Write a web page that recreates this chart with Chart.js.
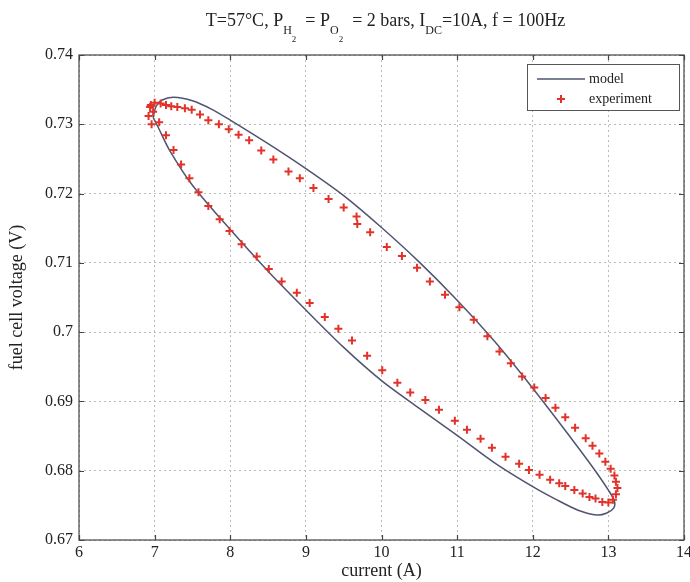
<!DOCTYPE html>
<html>
<head>
<meta charset="utf-8">
<script src="https://cdn.jsdelivr.net/npm/chart.js@4/dist/chart.umd.min.js"></script>
<style>
    html, body { margin: 0; padding: 0; background: #fff; }
    #wrap { width: 690px; height: 582px; }
</style>
</head>
<body>
<div id="wrap"><canvas id="chart"></canvas></div>
<script>
// 모델 곡선 (닫힌 루프)
const modelCurrent = [6.98, 7.02, 7.1, 7.25, 7.5, 7.75, 8.0, 8.5, 9.0, 9.5, 10.0, 10.5, 11.0, 11.5, 12.0, 12.5, 12.8, 13.0, 13.08,
    13.07, 12.98, 12.85, 12.6, 12.3, 12.0, 11.5, 11.0, 10.5, 10.0, 9.5, 9.0, 8.5, 8.0, 7.5, 7.2, 7.05, 6.98];
const modelVoltage = [0.7310, 0.7326, 0.7335, 0.7339, 0.7334, 0.7322, 0.7306, 0.7272, 0.7236, 0.7197, 0.7151, 0.7101, 0.7046, 0.6986, 0.6919, 0.6848, 0.6804, 0.6772, 0.6756,
    0.6746, 0.6739, 0.6736, 0.6743, 0.6759, 0.6777, 0.6811, 0.6851, 0.6890, 0.6930, 0.6978, 0.7032, 0.7088, 0.7148, 0.7212, 0.7262, 0.7295, 0.7310];

// 측정값
const expCurrent = [6.95, 7.0, 7.08, 7.15, 7.22, 7.3, 7.4, 7.49, 7.6, 7.71, 7.85, 7.98, 8.11, 8.25, 8.41, 8.57, 8.77, 8.92, 9.1, 9.3,
    9.5, 9.67, 9.68, 9.85, 10.07, 10.27, 10.47, 10.64, 10.84, 11.03, 11.22, 11.4, 11.56, 11.71, 11.86, 12.02, 12.17, 12.3, 12.43, 12.56,
    12.7, 12.79, 12.88, 12.96, 13.03, 13.08, 13.1, 13.12, 13.1, 13.06, 13.0, 12.92, 12.83, 12.75, 12.66, 12.55, 12.43, 12.35, 12.23, 12.09,
    11.95, 11.82, 11.64, 11.46, 11.31, 11.13, 10.97, 10.76, 10.58, 10.38, 10.21, 10.01, 9.81, 9.61, 9.43, 9.25, 9.05, 8.88, 8.68, 8.51,
    8.35, 8.15, 7.99, 7.86, 7.71, 7.58, 7.46, 7.35, 7.25, 7.15, 7.06, 6.98, 6.94, 6.92, 6.96];
const expVoltage = [0.7328, 0.7331, 0.7330, 0.7328, 0.7326, 0.7325, 0.7323, 0.7321, 0.7314, 0.7306, 0.7300, 0.7293, 0.7285, 0.7277, 0.7262, 0.7249, 0.7232, 0.7222, 0.7208, 0.7192,
    0.7180, 0.7167, 0.7156, 0.7144, 0.7123, 0.7110, 0.7093, 0.7073, 0.7054, 0.7036, 0.7018, 0.6994, 0.6972, 0.6955, 0.6936, 0.6920, 0.6905, 0.6891, 0.6877, 0.6862,
    0.6847, 0.6836, 0.6825, 0.6813, 0.6803, 0.6793, 0.6784, 0.6775, 0.6766, 0.6758, 0.6754, 0.6755, 0.6760, 0.6762, 0.6767, 0.6772, 0.6778, 0.6782, 0.6787, 0.6794,
    0.6801, 0.6810, 0.6820, 0.6833, 0.6846, 0.6859, 0.6872, 0.6888, 0.6902, 0.6913, 0.6927, 0.6945, 0.6966, 0.6988, 0.7005, 0.7022, 0.7042, 0.7057, 0.7073, 0.7091,
    0.7109, 0.7127, 0.7146, 0.7163, 0.7182, 0.7202, 0.7222, 0.7242, 0.7263, 0.7284, 0.7303, 0.7318, 0.7325, 0.7312, 0.7300];

const xTicks = [6, 7, 8, 9, 10, 11, 12, 13, 14];
const yTicks = [0.67, 0.68, 0.69, 0.70, 0.71, 0.72, 0.73, 0.74];

const SERIF = "'Liberation Serif', 'DejaVu Serif', serif";
const MODEL_COLOR = "#4f5570";
const EXP_COLOR = "#e2332b";

// 제목 (아래첨자 포함)
const titlePlugin = {
    id: "subTitle",
    afterDraw(chart) {
        const ctx = chart.ctx;
        const parts = [
            ["T=57°C, P", 0], ["H", 1], ["2", 2], ["  = P", 0], ["O", 1], ["2", 2],
            ["  = 2 bars, I", 0], ["DC", 1], ["=10A, f = 100Hz", 0],
        ];
        const size = [18, 12, 9];
        const dy = [0, 8, 16];
        ctx.save();
        ctx.fillStyle = "#222";
        ctx.textBaseline = "alphabetic";
        let total = 0;
        parts.forEach(([t, l]) => {
            ctx.font = size[l] + "px " + SERIF;
            total += ctx.measureText(t).width;
        });
        let x = (chart.chartArea.left + chart.chartArea.right) / 2 - total / 2 + 4;
        const base = 26;
        parts.forEach(([t, l]) => {
            ctx.font = size[l] + "px " + SERIF;
            ctx.fillText(t, x, base + dy[l]);
            x += ctx.measureText(t).width;
        });
        ctx.restore();
    },
};

// 상자 테두리, 안쪽 눈금, 범례
const framePlugin = {
    id: "frame",
    afterDraw(chart) {
        const ctx = chart.ctx;
        const a = chart.chartArea;
        const xs = chart.scales.x;
        const ys = chart.scales.y;
        ctx.save();
        ctx.strokeStyle = "#444";
        ctx.lineWidth = 1.2;
        ctx.strokeRect(a.left, a.top, a.right - a.left, a.bottom - a.top);
        ctx.beginPath();
        xTicks.forEach((v) => {
            const px = Math.round(xs.getPixelForValue(v)) + 0.5;
            ctx.moveTo(px, a.bottom); ctx.lineTo(px, a.bottom - 5);
            ctx.moveTo(px, a.top); ctx.lineTo(px, a.top + 5);
        });
        yTicks.forEach((v) => {
            const py = Math.round(ys.getPixelForValue(v)) + 0.5;
            ctx.moveTo(a.left, py); ctx.lineTo(a.left + 5, py);
            ctx.moveTo(a.right, py); ctx.lineTo(a.right - 5, py);
        });
        ctx.stroke();

        // legend
        const bx = 527, by = 64, bw = 152, bh = 46;
        ctx.fillStyle = "#fff";
        ctx.fillRect(bx, by, bw, bh);
        ctx.strokeStyle = "#555";
        ctx.lineWidth = 1;
        ctx.strokeRect(bx + 0.5, by + 0.5, bw, bh);
        const ds = chart.data.datasets;
        ctx.strokeStyle = MODEL_COLOR;
        ctx.lineWidth = 1.5;
        ctx.beginPath();
        ctx.moveTo(bx + 10, by + 15); ctx.lineTo(bx + 58, by + 15);
        ctx.stroke();
        ctx.strokeStyle = EXP_COLOR;
        ctx.lineWidth = 2;
        ctx.beginPath();
        ctx.moveTo(bx + 30, by + 35); ctx.lineTo(bx + 38, by + 35);
        ctx.moveTo(bx + 34, by + 31); ctx.lineTo(bx + 34, by + 39);
        ctx.stroke();
        ctx.fillStyle = "#222";
        ctx.font = "14px " + SERIF;
        ctx.textBaseline = "middle";
        ctx.fillText(ds[0].label, bx + 62, by + 15);
        ctx.fillText(ds[1].label, bx + 62, by + 35);
        ctx.restore();
    },
};

const ctx = document.getElementById("chart").getContext("2d");
const chart = new Chart(ctx, {
    type: "scatter",
    data: {
        datasets: [
            {
                label: "model",
                data: modelCurrent.map((x, i) => ({ x: x, y: modelVoltage[i] })),
                showLine: true,
                borderColor: MODEL_COLOR,
                borderWidth: 1.5,
                pointRadius: 0,
                tension: 0.3,
                order: 1,
            },
            {
                label: "experiment",
                data: expCurrent.map((x, i) => ({ x: x, y: expVoltage[i] })),
                pointStyle: "cross",
                pointRadius: 4,
                borderColor: EXP_COLOR,
                backgroundColor: EXP_COLOR,
                borderWidth: 2,
                order: 0,
            },
        ],
    },
    options: {
        responsive: true,
        maintainAspectRatio: false,
        animation: false,
        layout: { padding: { top: 55, right: 6, left: 0, bottom: 0 } },
        plugins: {
            legend: { display: false },
            tooltip: { enabled: false },
            title: { display: false },
        },
        scales: {
            x: {
                type: "linear",
                min: 6,
                max: 14,
                afterBuildTicks: (s) => { s.ticks = xTicks.map((v) => ({ value: v })); },
                afterFit: (s) => { s.height = 42; s.paddingRight = 0; s.paddingLeft = 0; },
                ticks: { color: "#222", font: { family: SERIF, size: 16 }, padding: 3, maxRotation: 0 },
                grid: { color: "#bbb", drawTicks: false },
                border: { display: false, dash: [2, 3] },
                title: { display: true, text: "current (A)", color: "#222", font: { family: SERIF, size: 18 }, padding: { top: 0, bottom: 0 } },
            },
            y: {
                type: "linear",
                min: 0.67,
                max: 0.74,
                afterBuildTicks: (s) => { s.ticks = yTicks.map((v) => ({ value: v })); },
                afterFit: (s) => { s.width = 79; },
                ticks: {
                    color: "#222",
                    font: { family: SERIF, size: 16 },
                    padding: 6,
                    callback: (v) => String(+v.toFixed(2)),
                },
                grid: { color: "#bbb", drawTicks: false },
                border: { display: false, dash: [2, 3] },
                title: { display: true, text: "fuel cell voltage (V)", color: "#222", font: { family: SERIF, size: 18 }, padding: { top: 6, bottom: 0 } },
            },
        },
    },
    plugins: [titlePlugin, framePlugin],
});
</script>
</body>
</html>
